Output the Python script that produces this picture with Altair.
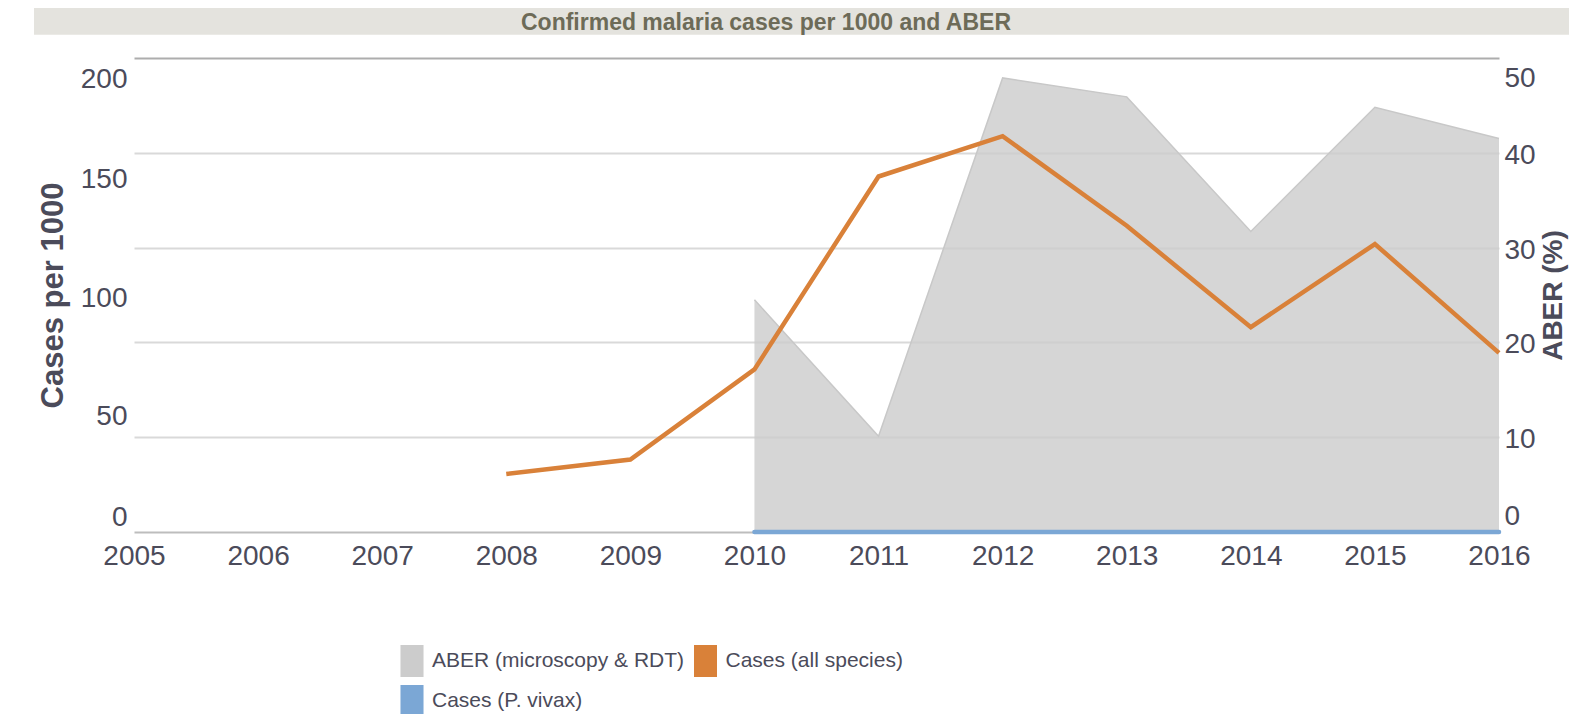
import altair as alt
import pandas as pd

# ---- data ----
YEARS = [2005, 2006, 2007, 2008, 2009, 2010, 2011, 2012, 2013, 2014, 2015, 2016]
CASES_ALL = [None, None, None, 24.5, 30.6, 68.6, 150.0, 167.0, 129.2, 86.4, 121.5, 75.6]
CASES_VIVAX = [None, None, None, None, None, 0, 0, 0, 0, 0, 0, 0]
ABER = [None, None, None, None, None, 24.5, 10.1, 47.9, 45.9, 31.7, 44.8, 41.5]

SERIES = ["ABER (microscopy & RDT)", "Cases (all species)", "Cases (P. vivax)"]
COLORS = ["#cccccc", "#d98139", "#7ba7d5"]

TITLE = "Confirmed malaria cases per 1000 and ABER"
LEFT_TICKS = [0, 50, 100, 150, 200]
RIGHT_TICKS = [0, 10, 20, 30, 40, 50]

FONT = "Liberation Sans, Arial, Helvetica, sans-serif"
TXT = "#4b4b5a"

W, H = 1365, 474

df = pd.DataFrame({"year": YEARS, "cases": CASES_ALL, "vivax": CASES_VIVAX, "aber": ABER})
df["aber_series"] = SERIES[0]
aber_df = df.dropna(subset=["aber"])
cases_df = df.dropna(subset=["cases"])
vivax_df = df.dropna(subset=["vivax"])
title_df = pd.DataFrame({"title": [TITLE]})

xscale = alt.Scale(domain=[2005, 2016], nice=False, zero=False)
rscale = alt.Scale(domain=[0, 50], nice=False)
lscale = alt.Scale(domain=[0, 200], nice=False)

x_bottom = alt.Axis(orient="bottom", values=YEARS, format="d", title=None, grid=False,
                    ticks=False, domain=False,
                    labelFontSize=28, labelFont=FONT, labelColor=TXT, labelPadding=10,
                    labelFlush=False, labelOverlap=False, labelBound=False)

grid_color = {
    "condition": [
        {"test": "datum.value === 50", "value": "#adadad"},
        {"test": "datum.value === 0", "value": "#bdbdbd"},
    ],
    "value": "#d9d9d9",
}

y_right = alt.Axis(orient="right", values=RIGHT_TICKS, title="ABER (%)", grid=True,
                   gridColor=grid_color, gridWidth=2, domain=False, ticks=False,
                   labelFontSize=28, labelFont=FONT, labelColor=TXT, labelPadding=5,
                   labelFlush=True, labelFlushOffset=-4, labelOffset=2.5,
                   titleFont=FONT, titleFontSize=28, titleFontWeight="bold", titleColor=TXT,
                   titleAngle=270, titleAlign="center", titleBaseline="alphabetic",
                   titleX=62, titleY=H / 2)
y_left = alt.Axis(orient="left", values=LEFT_TICKS, title="Cases per 1000", grid=False,
                  domain=False, ticks=False,
                  labelFontSize=28, labelFont=FONT, labelColor=TXT, labelPadding=7,
                  labelFlush=True, labelFlushOffset=-4, labelOffset=3,
                  titleFont=FONT, titleFontSize=31, titleFontWeight="bold", titleColor=TXT,
                  titleAngle=270, titleAlign="center", titleBaseline="alphabetic",
                  titleX=-72, titleY=H / 2)

legend = alt.Legend(title=None, orient="none", legendX=262, legendY=587, columns=2,
                    direction="horizontal",
                    symbolType="M-0.72,-1L0.72,-1L0.72,1L-0.72,1Z", symbolSize=1024,
                    symbolStrokeWidth=0, symbolOpacity=1, labelFont=FONT, labelFontSize=21,
                    labelColor=TXT, labelOffset=4, labelLimit=500, rowPadding=8,
                    columnPadding=4.5, padding=0)

band = alt.Chart(title_df).mark_rect(color="#e4e3de").encode(
    x=alt.value(-100), x2=alt.value(W + 100), y=alt.value(-60), y2=alt.value(-23.3)
)
title_txt = alt.Chart(title_df).mark_text(
    font=FONT, fontSize=23, fontWeight="bold", color="#6d6b58", align="center",
    baseline="alphabetic"
).encode(text="title:N", x=alt.value(632), y=alt.value(-28))

area = alt.Chart(aber_df).mark_area(opacity=0.8).encode(
    x=alt.X("year:Q", scale=xscale, axis=x_bottom),
    y=alt.Y("aber:Q", scale=rscale, axis=y_right),
    color=alt.Color("aber_series:N", scale=alt.Scale(domain=SERIES, range=COLORS), legend=legend),
)
aber_line = alt.Chart(aber_df).mark_line(color="#c8c8c8", strokeWidth=1.5).encode(
    x=alt.X("year:Q", scale=xscale, axis=x_bottom),
    y=alt.Y("aber:Q", scale=rscale, axis=None),
)
cases_line = alt.Chart(cases_df).mark_line(color=COLORS[1], strokeWidth=4.5).encode(
    x=alt.X("year:Q", scale=xscale, axis=x_bottom),
    y=alt.Y("cases:Q", scale=lscale, axis=y_left),
)
vivax_line = alt.Chart(vivax_df).mark_line(color=COLORS[2], strokeWidth=4.5, strokeCap="round").encode(
    x=alt.X("year:Q", scale=xscale, axis=x_bottom),
    y=alt.Y("vivax:Q", scale=lscale, axis=None),
)

chart = alt.layer(band, title_txt, area, aber_line, cases_line, vivax_line).resolve_scale(
    y="independent"
).properties(
    width=W, height=H,
    padding={"left": 126, "top": 50, "right": 70, "bottom": 182},
    autosize=alt.AutoSizeParams(type="none"),
).configure_view(stroke=None)

chart.save("out.html", embed_options={"renderer": "svg", "actions": False})
